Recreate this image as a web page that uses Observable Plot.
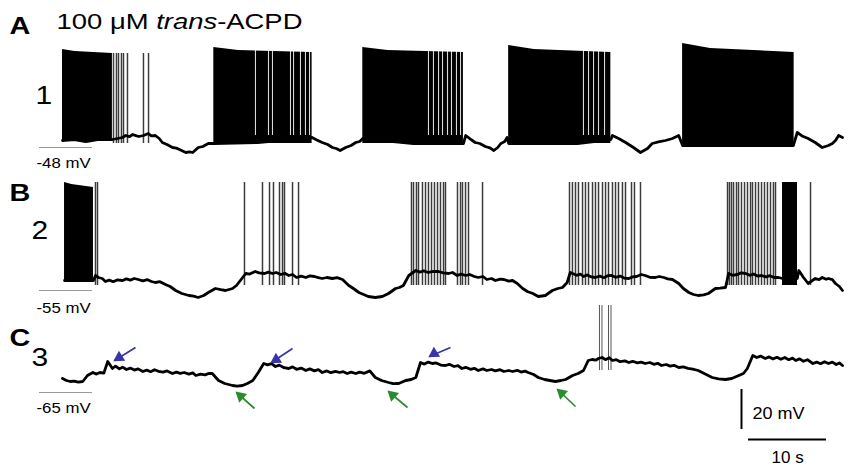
<!DOCTYPE html>
<html>
<head>
<meta charset="utf-8">
<script src="https://cdn.jsdelivr.net/npm/d3@7"></script>
<script src="https://cdn.jsdelivr.net/npm/@observablehq/plot@0.6"></script>
<style>
  html, body { margin: 0; padding: 0; background: #fff; }
  svg { display: block; }
</style>
</head>
<body>
<script>
// ---------- data (time in s, membrane potential in mV) ----------
const traceLabels = ["1", "2", "3"];
const panelLetters = ["A", "B", "C"];
const refPotentials = [-48, -55, -65];
const refLabels = ["-48 mV", "-55 mV", "-65 mV"];
const title = "100 μM trans-ACPD";

// subthreshold membrane potential, [t, mV]
const trace1Base = [[0,-44.5],[1.5,-44],[3,-45],[4.5,-44],[6.4,-44],[7.7,-43],[8.1,-42],[8.6,-42.6],[9.0,-41.5],[9.5,-42.2],[9.8,-42.5],[10.4,-42],[11,-41],[11.4,-42.2],[11.9,-42],[12.4,-43.5],[12.8,-45.5],[13.4,-46.5],[14.1,-48],[14.6,-48.3],[15.0,-49],[15.8,-50.5],[16.3,-50.2],[16.7,-50.5],[17.4,-48],[18.0,-47.5],[18.7,-46],[19.4,-46],[25,-45.5],[32.0,-43],[32.6,-44.2],[33.3,-45.5],[34.0,-46.5],[34.6,-48],[35.1,-48.5],[35.6,-49.5],[36.3,-48],[37.0,-47],[37.6,-45.5],[38.1,-45],[38.5,-43.5],[45,-46],[51.4,-46],[51.7,-42],[52.3,-43.8],[52.9,-45.5],[53.5,-46],[54.2,-47.5],[54.8,-48.2],[55.3,-49.5],[55.8,-48],[56.2,-46],[56.7,-45],[57.0,-43],[57.2,-46],[66,-46],[70.3,-44],[70.5,-42],[71.3,-43.5],[72.2,-45.5],[73.2,-48],[74.1,-50.5],[75.0,-48.5],[75.6,-46],[76.4,-45.2],[77.3,-44.5],[78.2,-43.5],[79.0,-42],[79.5,-47],[93.7,-47],[94.2,-40.5],[94.9,-42.4],[95.6,-43.5],[96.5,-45.5],[97.4,-48],[98.2,-47],[98.7,-46],[99.1,-44.5],[99.5,-42],[100,-43]];
const trace2Base = [[0.26,-50],[3.97,-50],[4.23,-47.5],[4.6,-48.5],[5.1,-49],[5.5,-50.5],[6.0,-49.8],[6.5,-50.6],[7,-49.7],[7.7,-50],[8.2,-49.2],[8.7,-49.8],[9.2,-49],[9.7,-49.5],[10.3,-50.2],[10.9,-49.6],[11.4,-50.5],[11.9,-51],[12.5,-50.6],[13.2,-52],[13.8,-53],[14.5,-55],[15.3,-56.5],[16.2,-57.5],[16.8,-57.8],[17.4,-58.5],[18.1,-57.5],[18.7,-56],[19.6,-54],[20.3,-54.6],[20.9,-55],[21.8,-54],[22.3,-52.5],[22.8,-50],[23.5,-46.5],[24,-46.8],[24.7,-45.5],[25.2,-46.2],[25.9,-46.5],[26.4,-45.8],[26.9,-46.5],[27.4,-46],[28,-47],[28.5,-46.4],[29,-47.5],[29.5,-47],[30,-48.5],[30.6,-47.8],[31.2,-48.5],[31.7,-47.7],[32.3,-48],[32.8,-48.6],[33.3,-49],[33.9,-48.5],[34.6,-49],[35.2,-48.6],[35.9,-49.5],[36.7,-52.5],[37.3,-54],[38,-56],[38.6,-57],[39.2,-58],[40.1,-58.5],[41,-58],[41.8,-56.5],[42.7,-54],[43.2,-53.5],[43.7,-52.5],[44.4,-47.5],[45.3,-45],[45.8,-45.8],[46.3,-45.2],[46.9,-46],[47.5,-45.4],[48.2,-45.5],[48.8,-46.2],[49.5,-46.5],[50,-46],[50.6,-47.5],[51.1,-46.8],[51.7,-47.5],[52.2,-47],[52.8,-48],[53.3,-48.5],[53.9,-48],[54.4,-49.5],[55,-49],[55.5,-50],[56.1,-49.3],[56.6,-49.5],[57.2,-50.3],[57.7,-50],[58.3,-51.5],[59,-54],[59.6,-55.5],[60.3,-56.5],[61,-58],[61.9,-57.5],[62.8,-55],[63.5,-54],[64.1,-53.5],[64.7,-51],[65.1,-46],[65.4,-46.5],[65.9,-47.4],[66.4,-46.8],[66.8,-48],[67.3,-47.2],[67.8,-48.2],[68.3,-48.5],[68.9,-47.8],[69.4,-48.6],[69.9,-47.6],[70.4,-47.5],[70.9,-48.4],[71.5,-47.8],[72,-48.8],[72.6,-49],[73.1,-48.2],[73.6,-48],[74.2,-47],[74.7,-47.5],[75.3,-48.4],[76,-48.5],[76.5,-48],[77.1,-48.5],[77.6,-49.2],[78.2,-49.5],[79,-51.5],[79.6,-54],[80.3,-56],[80.9,-57],[81.5,-57.5],[82.2,-57.2],[82.8,-56.5],[83.7,-54],[84.3,-53.8],[85,-53.5],[85.4,-46.5],[85.9,-47.4],[86.5,-47],[87,-46.2],[87.6,-46.5],[88.1,-47.4],[88.6,-46.8],[89.1,-47.8],[89.6,-47.5],[90.2,-48.2],[90.7,-47.6],[91.2,-48.5],[91.8,-48.5],[92.3,-49],[94.2,-49],[94.4,-45],[95,-48.5],[95.6,-51.5],[96.5,-49],[97,-49.6],[97.4,-48.5],[97.9,-49.4],[98.2,-49],[98.7,-49.6],[99.1,-51.5],[99.6,-53],[100,-55]];
const trace3Base = [[0,-58],[0.5,-59],[1,-59.5],[1.5,-59.3],[2,-59.8],[2.6,-59.5],[3.2,-56.5],[3.9,-55],[4.3,-55.8],[4.8,-55],[5.3,-55.3],[5.8,-49.5],[6.4,-53],[6.8,-51.8],[7.3,-53.2],[7.7,-52.3],[8.2,-53.5],[8.7,-52.8],[9.2,-53.8],[9.7,-53.2],[10.3,-54.5],[10.8,-53.8],[11.3,-54.6],[11.8,-53.6],[12.3,-54.4],[12.9,-54.8],[13.4,-54.2],[14.1,-55.5],[14.6,-54.8],[15.1,-55.4],[15.6,-55],[16.2,-55.8],[16.7,-55.2],[17.1,-56.5],[17.7,-55.8],[18.3,-56.2],[18.8,-55.4],[19.2,-55.5],[20,-59],[20.8,-60.5],[21.8,-61.5],[22.4,-61.8],[23.1,-61.5],[23.7,-60.5],[24.4,-59],[25.1,-55],[25.8,-50.5],[26.3,-51.2],[26.8,-50.6],[27.3,-52],[27.8,-51.3],[28.4,-52.6],[29,-53],[29.5,-52.2],[30,-53.4],[30.6,-52.8],[31.2,-54],[31.7,-53.2],[32.3,-54.2],[32.8,-53.6],[33.3,-55],[33.9,-54.2],[34.4,-55.1],[35,-54.4],[35.5,-55],[36,-54.6],[36.5,-55.5],[37,-54.8],[37.6,-55.5],[38.1,-54.8],[38.7,-55.4],[39.4,-54.2],[40.1,-57.5],[40.9,-59],[41.8,-60],[42.4,-60.6],[43.1,-60.5],[44,-59],[44.7,-58.5],[45.3,-57.5],[45.9,-50],[46.4,-50.8],[46.9,-49.8],[47.4,-50.5],[47.9,-50.2],[48.5,-51.3],[49.1,-51.5],[49.6,-50.9],[50.2,-52],[50.7,-51.6],[51.2,-53],[51.7,-52.4],[52.3,-53.4],[52.8,-52.9],[53.3,-54],[53.9,-53.2],[54.4,-54],[55,-53.5],[55.5,-54.2],[56.1,-53.6],[56.6,-54.5],[57.2,-54],[57.7,-54.5],[58.3,-53.9],[58.8,-54.8],[59.3,-54.3],[59.7,-55],[60.4,-56],[61,-57.5],[61.8,-58.5],[62.5,-59],[63.2,-59.5],[63.9,-59],[64.5,-58.5],[65.4,-56.5],[66.1,-55.5],[66.8,-54],[67.4,-49],[67.9,-48.5],[68.4,-48.8],[68.7,-48],[69.2,-47.5],[69.6,-48.6],[70.1,-47.6],[70.5,-49],[71,-48.6],[71.5,-49.6],[72.1,-49.2],[72.6,-50],[73.1,-49.4],[73.7,-50.2],[74.2,-49.8],[74.7,-50.5],[75.3,-50],[75.8,-50.9],[76.3,-50.4],[76.8,-51.5],[77.4,-51],[77.9,-51.8],[78.4,-51.4],[79,-52.5],[79.6,-52.2],[80.2,-52.9],[80.8,-53.3],[81.5,-54],[82.4,-55.8],[83.3,-57.5],[84.1,-58.2],[85,-58.5],[85.8,-58],[86.7,-56.5],[87.3,-55.5],[87.8,-53],[88.5,-46.5],[89,-47.5],[89.5,-46.8],[90.1,-48],[90.6,-47.2],[91.1,-48.2],[91.6,-47.4],[92.1,-48.4],[92.6,-47.5],[93.1,-48.6],[93.6,-47.8],[94,-49],[94.5,-48.2],[95,-49.4],[95.5,-48.6],[96.2,-50.5],[96.7,-49.8],[97.2,-50.6],[97.7,-49.6],[98.2,-50.5],[98.7,-49.8],[99.2,-51],[99.6,-50.2],[100,-51.5]];

// dense spike bursts: [start s, end s, first peak mV, peak at first quarter mV, last peak mV, trough mV]
const trace1Bursts = [[0,6.4,1,0,-1,-44.5],[19.4,32.0,2,0.5,-0.5,-46],[38.5,51.4,2,0.5,-0.5,-46],[57.2,70.3,3,1,-0.5,-46],[79.5,93.8,4,1.5,-0.5,-47]];
const trace2Bursts = [[0.26,3.97,-1,-2,-3.5,-50],[92.31,94.23,-1,-1,-1,-52.5]];
const trace3Bursts = [];

// pauses (missing spikes) inside the dense bursts of trace 1, s
const trace1Gaps = [24.74,26.41,26.92,29.23,29.62,30.51,31.15,31.67,46.92,47.56,48.21,48.72,49.36,49.87,50.51,51.03,66.79,67.44,68.08,68.72,69.49];

// isolated action potentials: times (s), peak and trough (mV)
const trace1Spikes = {t:[6.54,6.92,7.18,7.56,7.82,8.33,10.38,11.03], peak:-1, trough:-46};
const trace2Spikes = {t:[4.23,4.49,23.33,25.64,26.54,27.05,27.82,28.21,28.46,29.49,30.26,44.74,45.0,45.38,45.64,46.15,46.54,46.92,47.31,47.69,48.08,48.46,48.85,49.1,50.64,51.03,51.28,51.67,52.05,53.85,65.0,65.38,65.77,66.15,66.67,67.05,67.44,67.95,68.33,68.72,69.23,69.62,70.0,70.51,70.9,71.28,71.79,72.18,72.95,73.33,74.1,85.26,85.51,85.77,86.03,86.41,86.67,87.05,87.44,87.82,88.21,88.46,88.85,89.23,89.62,90.0,90.38,90.77,91.15,91.41,95.9], peak:-1, trough:-52.5};
const trace3Spikes = {t:[68.97,70.13], peak:-21.5, trough:-54};

// arrows in trace 3: [tail s, tail mV, tip s, tip mV]
const blueArrows = [[9.36,-42.5,6.67,-49],[29.49,-43,26.79,-50],[49.74,-42.5,47.05,-47]];
const greenArrows = [[24.62,-73,22.31,-65],[44.23,-72.5,41.79,-64.5],[65.77,-72,63.46,-63.5]];

// scale bars
const scaleBarMV = 20;
const scaleBarS = 10;

// ---------- layout helpers ----------
const off = [209, 144.5, 103.5];            // vertical offset of each trace (in mV units)
const xp = px => (px - 62) / 7.8;           // pixel -> seconds
const yp = py => (469 - py) / 2;            // pixel -> stacked mV

const bases = [trace1Base, trace2Base, trace3Base];
const burstsAll = [trace1Bursts, trace2Bursts, trace3Bursts];
const spikesAll = [trace1Spikes, trace2Spikes, trace3Spikes];

const baseRows = bases.flatMap((pts, k) => pts.map(([t, v]) => ({k, t, y: v + off[k]})));
const burstRows = burstsAll.flatMap((bs, k) => bs.flatMap(([t0, t1, p0, pq, p1, lo], i) => [
  {id: k + "-" + i, t: t0, lo: lo + off[k], hi: p0 + off[k]},
  {id: k + "-" + i, t: t0 + (t1 - t0) / 4, lo: lo + off[k], hi: pq + off[k]},
  {id: k + "-" + i, t: t1, lo: lo + off[k], hi: p1 + off[k]}
]));
const gapRows = trace1Gaps.map(t => {
  const b = trace1Bursts.find(([t0, t1]) => t >= t0 && t <= t1);
  return {t, lo: b[5] + 4 + off[0], hi: b[3] + off[0] + 1};
});
const spikeRows = spikesAll.flatMap((s, k) => s.t.map(t => ({k, t, lo: s.trough + off[k], hi: s.peak + off[k]})));
const refRows = refPotentials.map((v, k) => ({y: v + off[k], x1: xp(39), x2: xp(92), label: refLabels[k], k}));
const barRows = [{x: xp(741), y1: yp(389), y2: yp(389) - scaleBarMV, xa: xp(748), xb: xp(748) + scaleBarS, yh: yp(439)}];

const blue = "#3636a8", green = "#2a8c2e";
const arrowMarks = (arr, color, rot, dx, dy) => [
  Plot.link(arr, {x1: d => d[0], y1: d => d[1] + off[2], x2: d => d[2], y2: d => d[3] + off[2], stroke: color, strokeWidth: 1.7}),
  Plot.dot(arr, {x: d => d[2], y: d => d[3] + off[2], symbol: "triangle", r: 4.4, rotate: rot, fill: color, stroke: "none", dx, dy})
];

const txt = (s, px, py, size, weight = "normal") =>
  Plot.text([{s, x: xp(px), y: yp(py)}], {x: "x", y: "y", text: "s", fontSize: size, fontWeight: weight, textAnchor: "start", lineAnchor: "bottom", fill: "#000"});

const chart = Plot.plot({
  width: 850,
  height: 469,
  margin: 0,
  style: {fontFamily: "'Liberation Sans', Arial, sans-serif", background: "#fff"},
  x: {domain: [xp(0), xp(850)], axis: null},
  y: {domain: [0, 234.5], axis: null},
  marks: [
    Plot.areaY(burstRows, {x: "t", y1: "lo", y2: "hi", z: "id", fill: "#000", curve: "linear"}),
    Plot.ruleX(gapRows, {x: "t", y1: "lo", y2: "hi", stroke: "#fff", strokeWidth: 1.1, strokeOpacity: 0.85}),
    Plot.ruleX(spikeRows.filter(d => d.k < 2), {x: "t", y1: "lo", y2: "hi", stroke: "#3c3c3c", strokeWidth: 1.5}),
    Plot.ruleX(spikeRows.filter(d => d.k === 2), {x: "t", y1: "lo", y2: "hi", stroke: "#555", strokeWidth: 1, dx: -1}),
    Plot.ruleX(spikeRows.filter(d => d.k === 2), {x: "t", y1: "lo", y2: "hi", stroke: "#555", strokeWidth: 1, dx: 1.5}),
    Plot.line(baseRows, {x: "t", y: "y", z: "k", stroke: "#000", strokeWidth: 2.8, strokeLinejoin: "round"}),
    Plot.ruleY(refRows, {y: "y", x1: "x1", x2: "x2", stroke: "#9a9a9a", strokeWidth: 1.2}),
    ...arrowMarks(blueArrows, blue, 238, 4.6, -2.9),
    ...arrowMarks(greenArrows, green, 312, 4.1, 3.6),
    // scale bars
    Plot.ruleX(barRows, {x: "x", y1: "y1", y2: "y2", stroke: "#000", strokeWidth: 2}),
    Plot.ruleY(barRows, {y: "yh", x1: "xa", x2: "xb", stroke: "#000", strokeWidth: 2}),
    txt(scaleBarMV + " mV", 752, 418, 17),
    txt(scaleBarS + " s", 771, 462, 17),
    // labels
    txt(panelLetters[0], 9, 33, 24, "bold"),
    txt(panelLetters[1], 9, 200, 24, "bold"),
    txt(panelLetters[2], 9, 345, 24, "bold"),
    txt(traceLabels[0], 35, 103, 25),
    txt(traceLabels[1], 31, 238, 25),
    txt(traceLabels[2], 31, 365, 25),
    txt(refLabels[0], 36, 167, 14),
    txt(refLabels[1], 36, 312, 14),
    txt(refLabels[2], 36, 412, 14),
    txt(title, 56, 28, 21.5)
  ]
});
document.body.appendChild(chart);

// italic "trans" and horizontal stretch of the lettering as in the figure
const stretch = {"A": 1.2, "B": 1.2, "C": 1.2, "1": 1.2, "2": 1.2, "3": 1.2,
  "-48 mV": 1.2, "-55 mV": 1.2, "-65 mV": 1.2, "20 mV": 1.06, "10 s": 1.0};
chart.querySelectorAll("text").forEach(el => {
  const s = el.textContent;
  if (s === title) {
    el.textContent = "";
    const parts = [["100 μM ", "normal"], ["trans", "italic"], ["-ACPD", "normal"]];
    for (const [p, st] of parts) {
      const ts = document.createElementNS("http://www.w3.org/2000/svg", "tspan");
      ts.textContent = p;
      ts.setAttribute("font-style", st);
      el.appendChild(ts);
    }
    el.setAttribute("textLength", 246);
    el.setAttribute("lengthAdjust", "spacingAndGlyphs");
  } else if (stretch[s] && stretch[s] !== 1) {
    const L = el.getComputedTextLength();
    el.setAttribute("textLength", L * stretch[s]);
    el.setAttribute("lengthAdjust", "spacingAndGlyphs");
  }
});
</script>
</body>
</html>
